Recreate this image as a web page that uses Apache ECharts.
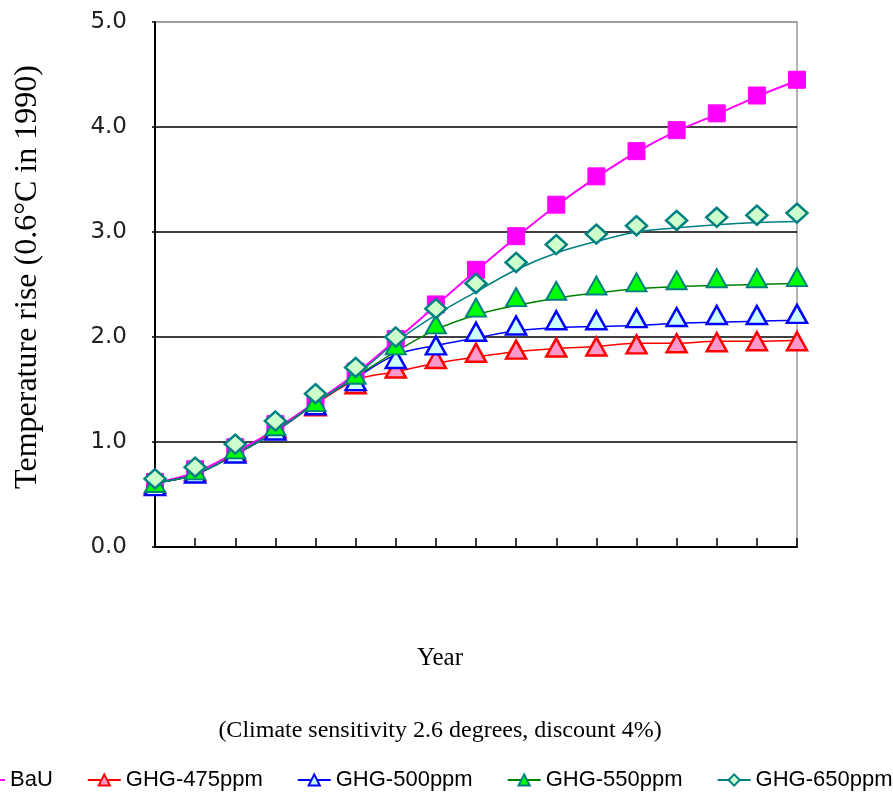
<!DOCTYPE html>
<html>
<head>
<meta charset="utf-8">
<script src="https://cdn.jsdelivr.net/npm/echarts@6/dist/echarts.min.js"></script>
<style>
html,body{margin:0;padding:0;background:#fff;}
#chart{width:893px;height:793px;}
</style>
</head>
<body>
<div id="chart"></div>
<script>
// Categories (periods along the Year axis; no tick labels shown in the original)
var categories = ['1','2','3','4','5','6','7','8','9','10','11','12','13','14','15','16','17'];
var yTicks = [0, 1, 2, 3, 4, 5];

// Marker values
var bau    = [0.62,0.74,0.95,1.17,1.39,1.67,1.98,2.31,2.64,2.96,3.26,3.53,3.77,3.97,4.13,4.30,4.45];
var ghg475 = [0.60,0.72,0.91,1.13,1.34,1.55,1.70,1.79,1.85,1.88,1.90,1.91,1.93,1.94,1.95,1.96,1.96];
var ghg500 = [0.58,0.70,0.89,1.11,1.35,1.58,1.79,1.92,2.05,2.11,2.16,2.16,2.18,2.19,2.21,2.21,2.22];
var ghg550 = [0.61,0.73,0.93,1.15,1.38,1.64,1.92,2.12,2.28,2.38,2.44,2.49,2.52,2.54,2.56,2.56,2.57];
var ghg650 = [0.65,0.76,0.98,1.20,1.46,1.71,2.00,2.27,2.51,2.71,2.88,2.98,3.06,3.11,3.14,3.16,3.18];

// Curve values (the drawn lines sit slightly off the markers in the original)
var bauLine    = [0.61,0.71,0.90,1.12,1.38,1.65,1.97,2.30,2.63,2.95,3.25,3.52,3.76,3.96,4.12,4.29,4.44];
var ghg475Line = [0.61,0.69,0.88,1.10,1.36,1.59,1.67,1.75,1.81,1.86,1.89,1.91,1.94,1.94,1.96,1.96,1.97];
var ghg500Line = [0.61,0.69,0.88,1.10,1.37,1.61,1.83,1.92,1.99,2.06,2.09,2.10,2.11,2.13,2.14,2.15,2.16];
var ghg550Line = [0.61,0.69,0.88,1.10,1.37,1.62,1.86,2.07,2.21,2.30,2.37,2.42,2.46,2.48,2.49,2.50,2.51];
var ghg650Line = [0.61,0.69,0.88,1.10,1.37,1.63,1.95,2.21,2.43,2.64,2.80,2.91,3.00,3.04,3.07,3.09,3.10];

var names = ['BaU','GHG-475ppm','GHG-500ppm','GHG-550ppm','GHG-650ppm'];
var yTitle = 'Temperature rise (0.6°C in 1990)';
var xTitle = 'Year';
var note = '(Climate sensitivity 2.6 degrees, discount 4%)';

var styles = [
  {line:'#FF00FF', lw:2,   symbol:'rect',     size:17,      fill:'#FF00FF', border:'#FF00FF', bw:1},
  {line:'#FF0000', lw:1.5, symbol:'triangle', size:[20,18], fill:'#FF99CC', border:'#FF0000', bw:2.5},
  {line:'#0000FF', lw:1.5, symbol:'triangle', size:[20,18], fill:'#CCFFFF', border:'#0000FF', bw:2.5},
  {line:'#008000', lw:1.5, symbol:'triangle', size:[20,18], fill:'#00FF00', border:'#008080', bw:2},
  {line:'#008080', lw:1.5, symbol:'diamond',  size:[21,19], fill:'#CCFFCC', border:'#008080', bw:2.5}
];
var markerData = [bau, ghg475, ghg500, ghg550, ghg650];
var lineData = [bauLine, ghg475Line, ghg500Line, ghg550Line, ghg650Line];

var series = [];
names.forEach(function(n, k){
  var s = styles[k];
  series.push({
    name: n, type: 'line', data: lineData[k], smooth: 0.35,
    showSymbol: false, symbol: s.symbol, symbolSize: s.size,
    lineStyle: {color: s.line, width: s.lw},
    itemStyle: {color: s.fill, borderColor: s.border, borderWidth: 1.2},
    z: 2 + k, silent: true, animation: false
  });
});
names.forEach(function(n, k){
  var s = styles[k];
  series.push({
    name: n, type: 'line', data: markerData[k],
    showSymbol: true, symbol: s.symbol, symbolSize: s.size,
    lineStyle: {width: 0, opacity: 0},
    itemStyle: {color: s.fill, borderColor: s.border, borderWidth: s.bw},
    z: 10 + k, silent: true, animation: false
  });
});

var chart = echarts.init(document.getElementById('chart'), null, {renderer: 'canvas'});
chart.setOption({
  animation: false,
  backgroundColor: '#fff',
  grid: {left: 155, right: 96, top: 22, bottom: 246, show: true, borderColor: '#999', borderWidth: 1.5, backgroundColor: 'transparent'},
  xAxis: {
    type: 'category', data: categories, boundaryGap: false,
    axisLine: {lineStyle: {color: '#000', width: 2}},
    axisTick: {show: true, inside: true, length: 9, interval: 0, lineStyle: {color: '#000', width: 1.5}},
    axisLabel: {show: false},
    splitLine: {show: false}
  },
  yAxis: {
    type: 'value', min: yTicks[0], max: yTicks[yTicks.length-1], interval: 1,
    axisLine: {show: true, lineStyle: {color: '#000', width: 2}},
    axisTick: {show: true, length: 3, lineStyle: {color: '#000', width: 1.5}},
    axisLabel: {margin: 28, fontFamily: 'DejaVu Sans', fontSize: 23, color: '#222',
      formatter: function(v){ return v.toFixed(1); }},
    splitLine: {show: true, lineStyle: {color: ['#000','#000','#000','#000','#000','#999'], width: 1.5}}
  },
  legend: {
    data: names, left: -34, width: 980, top: 764, orient: 'horizontal',
    itemWidth: 33, itemHeight: 14, itemGap: 34,
    textStyle: {fontFamily: 'Liberation Sans', fontSize: 22, color: '#000'}
  },
  graphic: [
    {type: 'text', x: 28, y: 277, rotation: Math.PI / 2,
      style: {text: yTitle, x: 0, y: 0, align: 'center', verticalAlign: 'middle', font: '32px "Liberation Serif"', fill: '#000'}},
    {type: 'text', x: 440, y: 658, style: {text: xTitle, x: 0, y: 0, align: 'center', verticalAlign: 'middle', font: '25px "Liberation Serif"', fill: '#000'}},
    {type: 'text', x: 440, y: 731, style: {text: note, x: 0, y: 0, align: 'center', verticalAlign: 'middle', font: '24px "Liberation Serif"', fill: '#000'}}
  ],
  series: series
});
</script>
</body>
</html>
